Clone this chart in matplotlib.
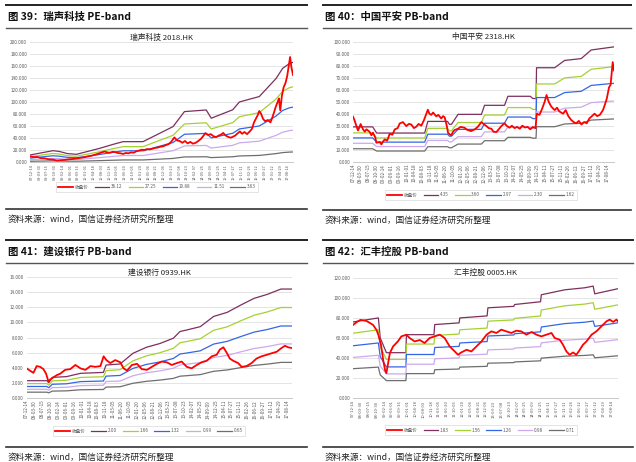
import numpy as np
import pandas as pd
import matplotlib
matplotlib.use('Agg')
import matplotlib.pyplot as plt
from matplotlib.lines import Line2D

plt.rcParams['font.family'] = ['Noto Sans CJK SC', 'DejaVu Sans']

# ---- data (time in decimal years) ----
tick_dates = pd.date_range('2007-12-14', periods=34, freq='107D')
tick_labels = [d.strftime('%y-%m-%d') for d in tick_dates]
tick_pos = [d.year + (d.dayofyear - 1) / 365.25 for d in tick_dates]

# 图39 瑞声科技 PE-band
aac_close = [
    (2007.89, 9.5), (2008.05, 8), (2008.15, 8.5), (2008.3, 6.5), (2008.45, 6), (2008.6, 4.5),
    (2008.75, 4), (2008.9, 2.5), (2009.05, 3), (2009.2, 3.5), (2009.35, 4.5), (2009.5, 5),
    (2009.65, 6), (2009.8, 7), (2009.95, 8), (2010.1, 9.5), (2010.25, 11), (2010.4, 13),
    (2010.5, 14.5), (2010.6, 16), (2010.7, 17.5), (2010.8, 16), (2010.9, 15.5), (2011.0, 17),
    (2011.1, 16.5), (2011.2, 15), (2011.3, 14.5), (2011.4, 13.5), (2011.5, 15), (2011.6, 14.5),
    (2011.7, 16), (2011.8, 15.5), (2011.9, 18), (2012.0, 19), (2012.1, 20.5), (2012.2, 20),
    (2012.3, 21.5), (2012.4, 21), (2012.5, 22), (2012.6, 23.5), (2012.7, 24), (2012.8, 25.5),
    (2012.9, 26), (2013.0, 28), (2013.1, 29.5), (2013.2, 33), (2013.28, 38), (2013.33, 41),
    (2013.43, 36), (2013.53, 35), (2013.63, 32), (2013.73, 35), (2013.83, 31), (2013.93, 33.5),
    (2014.03, 30.5), (2014.13, 32), (2014.23, 35), (2014.33, 38.5), (2014.43, 44), (2014.5, 48),
    (2014.6, 45), (2014.7, 46.5), (2014.8, 43), (2014.9, 41.5), (2015.0, 44), (2015.1, 46),
    (2015.17, 48.5), (2015.25, 44.5), (2015.35, 42), (2015.45, 40.5), (2015.53, 42), (2015.62, 44),
    (2015.72, 48), (2015.8, 51), (2015.88, 47), (2015.97, 50), (2016.07, 46.5), (2016.17, 51),
    (2016.25, 55), (2016.33, 66), (2016.4, 72), (2016.47, 78), (2016.53, 85), (2016.6, 80),
    (2016.67, 72), (2016.75, 68), (2016.85, 70), (2016.95, 66), (2017.02, 74), (2017.08, 82),
    (2017.15, 92), (2017.22, 100), (2017.27, 106), (2017.32, 86), (2017.38, 110), (2017.45, 125),
    (2017.52, 132), (2017.58, 143), (2017.64, 160), (2017.69, 175), (2017.74, 158), (2017.8, 145),
]
aac_eps = [
    (2007.89, 0.324), (2008.76, 0.523), (2009.0, 0.485), (2009.3, 0.388), (2009.64, 0.354),
    (2010.52, 0.631), (2011.02, 0.814), (2011.4, 0.939), (2012.15, 0.939), (2012.65, 1.246),
    (2013.28, 1.633), (2013.71, 2.326), (2014.53, 2.40), (2014.72, 2.02), (2015.53, 2.41),
    (2015.78, 2.77), (2016.53, 3.02), (2017.16, 3.85), (2017.41, 4.32), (2017.66, 4.54),
    (2017.8, 4.60),
]
aac_mult = [36.12, 27.25, 19.88, 11.51, 3.63]

# 图40 中国平安 PB-band
pa_close = [
    (2007.95, 37.5), (2008.0, 35), (2008.08, 29.7), (2008.14, 26), (2008.2, 29), (2008.24, 31.4),
    (2008.33, 27), (2008.4, 25), (2008.46, 27), (2008.58, 25), (2008.65, 22), (2008.71, 24.2),
    (2008.8, 20), (2008.84, 15.8), (2008.97, 16.4), (2009.03, 14.4), (2009.1, 17), (2009.16, 18.6),
    (2009.25, 17.5), (2009.35, 23.3), (2009.45, 22.5), (2009.54, 26.9), (2009.65, 28),
    (2009.73, 31.9), (2009.85, 33), (2009.98, 29.7), (2010.08, 31.5), (2010.17, 31),
    (2010.27, 28), (2010.36, 29.2), (2010.45, 31.5), (2010.55, 30), (2010.65, 34.5),
    (2010.8, 43.3), (2010.86, 40), (2010.93, 39), (2011.0, 41), (2011.12, 37.8), (2011.2, 39),
    (2011.31, 36), (2011.38, 38), (2011.44, 37), (2011.52, 30), (2011.57, 24), (2011.69, 21.9),
    (2011.76, 25), (2011.82, 26.4), (2011.95, 27.5), (2012.05, 29), (2012.2, 28.3),
    (2012.3, 26.5), (2012.45, 25.5), (2012.58, 26.9), (2012.7, 29), (2012.84, 33), (2012.95, 31),
    (2013.03, 29.7), (2013.12, 28), (2013.22, 27.5), (2013.3, 25), (2013.41, 24.7), (2013.5, 27),
    (2013.6, 29.7), (2013.72, 32), (2013.8, 30), (2013.91, 28.3), (2014.0, 30), (2014.1, 28),
    (2014.2, 29), (2014.3, 27.5), (2014.4, 30), (2014.5, 28.5), (2014.6, 29), (2014.7, 27),
    (2014.8, 29), (2014.9, 28), (2014.95, 40), (2015.05, 39), (2015.15, 44), (2015.25, 50),
    (2015.32, 55.6), (2015.4, 50), (2015.5, 46), (2015.63, 43), (2015.72, 45), (2015.8, 42),
    (2015.95, 40), (2016.05, 43), (2016.15, 38), (2016.25, 35), (2016.35, 33), (2016.45, 32),
    (2016.55, 34), (2016.65, 31), (2016.75, 33), (2016.85, 32), (2016.95, 36), (2017.05, 38),
    (2017.15, 40), (2017.25, 38), (2017.35, 39), (2017.47, 43), (2017.55, 48), (2017.62, 53),
    (2017.7, 62), (2017.76, 64), (2017.84, 83), (2017.89, 76),
]
pa_bps = [
    (2007.95, 6.67), (2008.7, 6.67), (2008.85, 5.49), (2010.68, 5.49), (2010.8, 7.72),
    (2011.55, 7.72), (2011.62, 7.16), (2011.7, 7.16), (2011.95, 9.07), (2012.84, 9.07),
    (2012.96, 10.8), (2013.72, 10.8), (2013.85, 12.53), (2014.7, 12.53), (2014.8, 12.1),
    (2014.92, 12.1), (2014.94, 18.0), (2015.63, 18.0), (2016.01, 19.4), (2016.64, 19.75),
    (2017.02, 21.4), (2017.89, 22.0),
]
pa_mult = [4.35, 3.60, 2.97, 2.30, 1.62]

# 图41 建设银行 PB-band
ccb_close = [
    (2007.95, 3.9), (2008.07, 3.6), (2008.2, 3.3), (2008.32, 4.2), (2008.45, 4.1), (2008.57, 3.8),
    (2008.67, 3.2), (2008.76, 2.13), (2008.82, 2.4), (2008.94, 2.7), (2009.07, 3.0), (2009.2, 3.2),
    (2009.38, 3.7), (2009.57, 3.8), (2009.76, 4.35), (2009.95, 3.9), (2010.13, 3.7), (2010.32, 4.2),
    (2010.5, 4.1), (2010.69, 4.2), (2010.81, 5.5), (2010.91, 5.0), (2011.06, 4.6), (2011.24, 5.0),
    (2011.43, 4.7), (2011.55, 3.9), (2011.68, 3.6), (2011.86, 4.35), (2012.05, 4.5), (2012.23, 3.8),
    (2012.42, 3.7), (2012.6, 4.1), (2012.79, 4.5), (2012.97, 4.8), (2013.16, 4.7), (2013.34, 4.35),
    (2013.53, 4.6), (2013.71, 4.8), (2013.9, 4.1), (2014.08, 3.9), (2014.27, 4.35), (2014.45, 4.7),
    (2014.64, 4.9), (2014.83, 5.5), (2015.01, 5.7), (2015.13, 6.4), (2015.26, 6.7), (2015.38, 6.0),
    (2015.5, 5.2), (2015.63, 4.9), (2015.81, 4.6), (2015.94, 4.1), (2016.12, 4.2), (2016.31, 4.6),
    (2016.49, 5.2), (2016.68, 5.5), (2016.87, 5.7), (2017.05, 5.9), (2017.24, 6.1), (2017.42, 6.6),
    (2017.55, 6.9), (2017.67, 6.7), (2017.8, 6.6),
]
ccb_bps = [
    (2007.95, 1.13), (2008.7, 1.13), (2008.77, 1.0), (2008.9, 1.35), (2009.43, 1.4),
    (2009.95, 1.62), (2010.8, 1.68), (2010.9, 2.17), (2011.42, 2.24), (2011.9, 2.95),
    (2012.4, 3.35), (2012.9, 3.6), (2013.4, 3.95), (2013.65, 4.4), (2013.9, 4.5),
    (2014.4, 4.72), (2014.9, 5.4), (2015.4, 5.67), (2015.9, 6.15), (2016.4, 6.6),
    (2016.9, 6.87), (2017.4, 7.22), (2017.8, 7.22),
]
ccb_mult = [2.00, 1.66, 1.32, 0.99, 0.65]

# 图42 汇丰控股 PB-band
hsbc_close = [
    (2007.95, 73), (2008.1, 76), (2008.23, 78), (2008.45, 77), (2008.58, 75), (2008.7, 73),
    (2008.83, 68), (2008.9, 63), (2009.0, 53), (2009.08, 38), (2009.15, 28), (2009.2, 25),
    (2009.33, 45), (2009.45, 51.6), (2009.63, 56.6), (2009.76, 61.6), (2009.95, 63.3),
    (2010.07, 60), (2010.26, 56.6), (2010.45, 58), (2010.63, 55), (2010.82, 60), (2011.0, 61.6),
    (2011.2, 63.3), (2011.38, 60), (2011.57, 51.6), (2011.76, 46.6), (2011.88, 43.3),
    (2012.0, 45.6), (2012.2, 48.3), (2012.38, 46.6), (2012.57, 51.6), (2012.76, 56.6),
    (2012.95, 63.3), (2013.13, 66.6), (2013.32, 65), (2013.5, 68.3), (2013.69, 66.6),
    (2013.88, 65), (2014.06, 67.3), (2014.25, 66.6), (2014.44, 63.3), (2014.63, 66),
    (2014.82, 63.3), (2015.0, 61.6), (2015.19, 63.3), (2015.38, 65), (2015.5, 60),
    (2015.69, 58.3), (2015.81, 53.3), (2015.94, 46.6), (2016.06, 43.3), (2016.19, 45.6),
    (2016.31, 43.3), (2016.44, 48.3), (2016.56, 53.3), (2016.69, 56.6), (2016.88, 63.3),
    (2017.06, 66.6), (2017.25, 71.6), (2017.44, 76.6), (2017.56, 78.3), (2017.69, 76),
    (2017.81, 78.3), (2017.87, 76.6),
]
hsbc_bps = [
    (2007.95, 41.5), (2008.9, 43.7), (2008.97, 32.8), (2009.2, 24.8), (2009.93, 24.8),
    (2009.95, 34.6), (2010.98, 34.6), (2011.01, 40.1), (2011.92, 41.0), (2011.95, 43.7),
    (2012.97, 44.8), (2013.0, 49.2), (2013.97, 50.0), (2014.0, 51.0), (2014.97, 52.5),
    (2015.0, 56.3), (2015.88, 59.0), (2016.63, 60.1), (2016.94, 61.0), (2017.0, 56.8),
    (2017.87, 59.6),
]
hsbc_mult = [1.83, 1.56, 1.26, 0.98, 0.71]

colors = ['#FF0000', '#7D2F5E', '#A5D132', '#3366E6', '#CDA8EE', '#6E6E6E']
source = '资料来源：wind，国信证券经济研究所整理'

W, H = 636, 462
fig = plt.figure(figsize=(W / 100, H / 100), dpi=100)


def hline(x0, x1, y, lw, color):
    fig.add_artist(Line2D([x0 / W, x1 / W], [1 - y / H, 1 - y / H], lw=lw, color=color))


def draw(px0, px1, ytop, heading, title, box, ymax, ystep, close, base, mult, leg_xy, sep_y, xsize):
    hline(px0, px1, ytop, 1.4, '#222222')
    fig.text((px0 + 2) / W, 1 - (ytop + 12) / H, heading, fontsize=7.5, fontweight='bold',
             va='center', ha='left', color='#111111')
    hline(px0, px1, ytop + 23, 1.0, '#555555')
    hline(px0, px1, sep_y, 1.2, '#333333')
    fig.text((px0 + 2) / W, 1 - (sep_y + 10) / H, source, fontsize=6.2, va='center',
             ha='left', color='#222222')

    l, t, r, b = box
    ax = fig.add_axes([l / W, 1 - b / H, (r - l) / W, (b - t) / H])
    ct, cv = np.array(close).T
    bt, bv = np.array(base).T
    handles = []
    for m, c in zip(mult, colors[1:]):
        h, = ax.plot(bt, bv * m, color=c, lw=0.9)
        handles.append(h)
    hc, = ax.plot(ct, cv, color=colors[0], lw=1.3, zorder=5)
    handles.insert(0, hc)
    labels = ['收盘价'] + ['%.2f' % m for m in mult]

    ax.set_xlim(min(ct[0], bt[0]), max(ct[-1], bt[-1]))
    ax.set_ylim(0, ymax)
    yt = np.arange(0, ymax + ystep / 2, ystep)
    ax.set_yticks(yt)
    ax.set_yticklabels(['%.3f' % v for v in yt])
    ax.set_xticks(tick_pos)
    ax.set_xticklabels(tick_labels, rotation=90)
    ax.tick_params(length=0, labelsize=3.3, colors='#595959', pad=2)
    ax.tick_params(axis='x', labelsize=xsize, pad=1.5)
    ax.yaxis.grid(True, color='#D9D9D9', lw=0.5)
    ax.set_axisbelow(True)
    for s in ['left', 'top', 'right']:
        ax.spines[s].set_visible(False)
    ax.spines['bottom'].set_color('#BFBFBF')
    ax.spines['bottom'].set_linewidth(0.6)
    ax.text(0.5, 1 + 4.5 / (b - t), title, transform=ax.transAxes, ha='center', va='center',
            fontsize=5.6, color='#222222')

    leg = ax.legend(handles, labels, loc='center', bbox_to_anchor=(leg_xy[0] / W, 1 - leg_xy[1] / H),
                    bbox_transform=fig.transFigure, ncol=6, fontsize=3.3, frameon=True,
                    fancybox=False, edgecolor='#D0D0D0', handlelength=3.2, handletextpad=0.4,
                    columnspacing=1.3, borderpad=0.45)
    leg.get_frame().set_linewidth(0.5)
    for txt in leg.get_texts():
        txt.set_color('#595959')


draw(6, 307, 5, '图 39：瑞声科技 PE-band', '瑞声科技 2018.HK', (30, 42, 293, 162),
     200, 20, aac_close, aac_eps, aac_mult, (157, 187), 209, 2.8)
draw(323, 631, 5, '图 40：中国平安 PB-band', '中国平安 2318.HK', (353, 41.7, 614, 161.7),
     100, 10, pa_close, pa_bps, pa_mult, (481, 195), 210, 3.3)
draw(6, 307, 240, '图 41：建设银行 PB-band', '建设银行 0939.HK', (26.7, 277.3, 291.7, 397.7),
     16, 2, ccb_close, ccb_bps, ccb_mult, (149, 431), 447, 3.3)
draw(323, 633, 240, '图 42：汇丰控股 PB-band', '汇丰控股 0005.HK', (353, 277.7, 618, 398.3),
     120, 20, hsbc_close, hsbc_bps, hsbc_mult, (481, 430), 447, 3.0)

fig.savefig('out.png', dpi=100)
